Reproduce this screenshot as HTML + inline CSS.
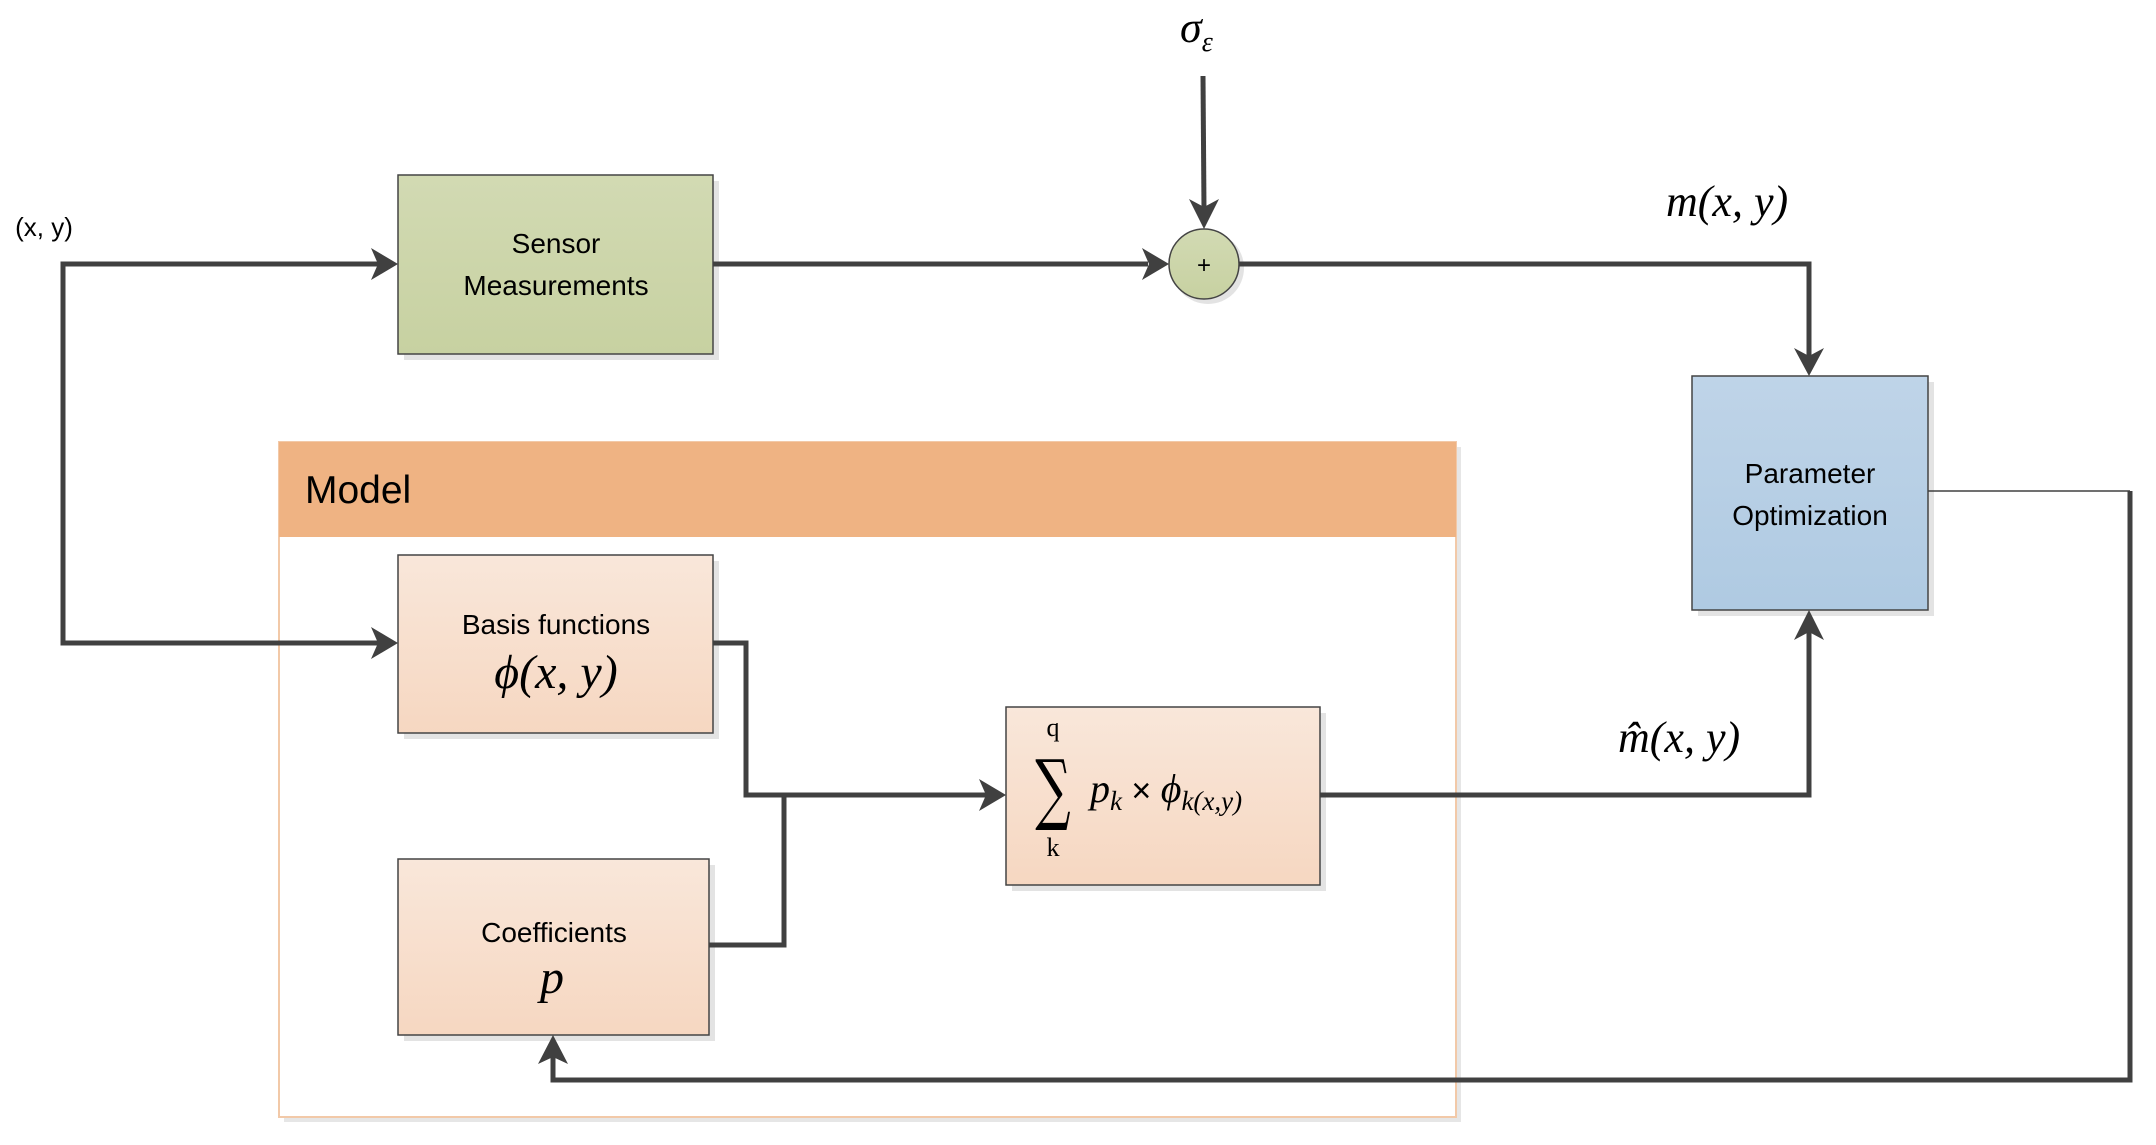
<!DOCTYPE html>
<html><head><meta charset="utf-8"><style>
html,body{margin:0;padding:0;background:#fff;}
svg{display:block;}
.t{font-family:"Liberation Sans",sans-serif;fill:#000;}
.m{font-family:"Liberation Serif",serif;font-style:italic;fill:#000;}
</style></head><body>
<svg width="2156" height="1145" viewBox="0 0 2156 1145" xmlns="http://www.w3.org/2000/svg">
<defs>
<linearGradient id="g" x1="0" y1="0" x2="0" y2="1"><stop offset="0" stop-color="#D2DAB3"/><stop offset="1" stop-color="#C7D1A1"/></linearGradient>
<linearGradient id="o" x1="0" y1="0" x2="0" y2="1"><stop offset="0" stop-color="#F9E7DA"/><stop offset="1" stop-color="#F6D7C1"/></linearGradient>
<linearGradient id="b" x1="0" y1="0" x2="0" y2="1"><stop offset="0" stop-color="#BFD4E8"/><stop offset="1" stop-color="#AFCAE2"/></linearGradient>
</defs>
<!-- Model container -->
<rect x="284" y="447" width="1177" height="675" fill="#e6e6e6"/>
<rect x="279" y="442" width="1177" height="675" fill="#fff" stroke="#F2C9A8" stroke-width="2"/>
<rect x="279" y="442" width="1177" height="95" fill="#EFB383"/>
<text x="305" y="503" class="t" font-size="39">Model</text>

<!-- Shadows -->
<rect x="404" y="181" width="315" height="179" fill="#e3e3e3"/>
<rect x="404" y="561" width="315" height="178" fill="#e3e3e3"/>
<rect x="404" y="865" width="311" height="176" fill="#e3e3e3"/>
<rect x="1012" y="713" width="314" height="178" fill="#e3e3e3"/>
<rect x="1698" y="382" width="236" height="234" fill="#e3e3e3"/>
<circle cx="1208" cy="268" r="36" fill="#e3e3e3"/>

<!-- Boxes -->
<rect x="398" y="175" width="315" height="179" fill="url(#g)" stroke="#444" stroke-width="1.5"/>
<text x="556" y="253" class="t" font-size="28" text-anchor="middle">Sensor</text>
<text x="556" y="295" class="t" font-size="28" text-anchor="middle">Measurements</text>

<rect x="398" y="555" width="315" height="178" fill="url(#o)" stroke="#444" stroke-width="1.5"/>
<text x="556" y="634" class="t" font-size="28" text-anchor="middle">Basis functions</text>
<text x="556" y="688" class="m" font-size="48" text-anchor="middle">ϕ(x, y)</text>

<rect x="398" y="859" width="311" height="176" fill="url(#o)" stroke="#444" stroke-width="1.5"/>
<text x="554" y="942" class="t" font-size="28" text-anchor="middle">Coefficients</text>
<text x="552" y="993" class="m" font-size="48" text-anchor="middle">p</text>

<rect x="1006" y="707" width="314" height="178" fill="url(#o)" stroke="#444" stroke-width="1.5"/>
<text x="1053" y="736" font-family="Liberation Serif,serif" font-size="26" text-anchor="middle">q</text>
<text transform="translate(1053,815) scale(0.8,1.25)" font-family="DejaVu Serif,serif" font-size="62" font-weight="normal" text-anchor="middle">∑</text>
<text x="1053" y="856" font-family="Liberation Serif,serif" font-size="26" text-anchor="middle">k</text>
<text x="1090" y="802" class="m" font-size="40">p<tspan font-size="27" dy="8">k</tspan><tspan dy="-8" font-style="normal" font-family="Liberation Sans,sans-serif" font-size="34"> × </tspan>ϕ<tspan font-size="27" dy="8">k(x,y)</tspan></text>

<rect x="1692" y="376" width="236" height="234" fill="url(#b)" stroke="#444" stroke-width="1.5"/>
<text x="1810" y="483" class="t" font-size="28" text-anchor="middle">Parameter</text>
<text x="1810" y="525" class="t" font-size="28" text-anchor="middle">Optimization</text>

<circle cx="1204" cy="264" r="35" fill="url(#g)" stroke="#444" stroke-width="1.5"/>
<text x="1204" y="273" class="t" font-size="24" text-anchor="middle">+</text>

<!-- Labels -->
<text x="44" y="236" class="t" font-size="26" text-anchor="middle">(x, y)</text>
<text x="1180" y="42" class="m" font-size="44">σ<tspan font-size="28" dy="9">ε</tspan></text>
<text x="1666" y="216" class="m" font-size="44">m(x, y)</text>
<text x="1618" y="752" class="m" font-size="44">m̂(x, y)</text>

<!-- Connectors -->
<g fill="none" stroke="#404040" stroke-width="5" stroke-linejoin="miter">
<polyline points="378,264 63,264 63,643 378,643"/>
<polyline points="713,264 1148,264"/>
<polyline points="1203,76 1204,210"/>
<polyline points="1239,264 1809,264 1809,356"/>
<polyline points="713,643 746,643 746,795 986,795"/>
<polyline points="709,945 784,945 784,795"/>
<polyline points="1320,795 1809,795 1809,632"/>
<polyline points="2130,491 2130,1080 553,1080 553,1057"/>
</g>
<line x1="1928" y1="491" x2="2130" y2="491" stroke="#404040" stroke-width="1.5"/>
<!-- Arrowheads -->
<g fill="#404040">
<polygon points="398,264 371,248 378,264 371,280"/>
<polygon points="398,643 371,627 378,643 371,659"/>
<polygon points="1169,264 1142,248 1149,264 1142,280"/>
<polygon points="1204,229 1189,199 1204,207 1219,199"/>
<polygon points="1809,376 1794,348 1809,356 1824,348"/>
<polygon points="1006,795 979,779 986,795 979,811"/>
<polygon points="1809,610 1794,640 1809,632 1824,640"/>
<polygon points="553,1035 538,1064 553,1057 568,1064"/>
</g>
</svg>
</body></html>
